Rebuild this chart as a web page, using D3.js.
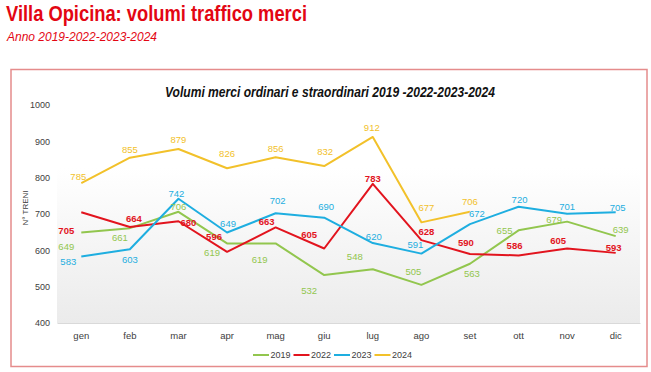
<!DOCTYPE html>
<html>
<head>
<meta charset="utf-8">
<script src="https://cdn.jsdelivr.net/npm/d3@7/dist/d3.min.js"></script>
<style>
  body { margin: 0; background: #fff; }
  svg { display: block; font-family: "Liberation Sans", Arial, sans-serif; }
</style>
</head>
<body>
<script>
// --- data ---
const months = ['gen', 'feb', 'mar', 'apr', 'mag', 'giu', 'lug', 'ago', 'set', 'ott', 'nov', 'dic'];
const years = ['2019', '2022', '2023', '2024'];
const v2019 = [649, 661, 706, 619, 619, 532, 548, 505, 563, 655, 679, 639];
const v2022 = [705, 664, 680, 596, 663, 605, 783, 628, 590, 586, 605, 593];
const v2023 = [583, 603, 742, 649, 702, 690, 620, 591, 672, 720, 701, 705];
const v2024 = [785, 855, 879, 826, 856, 832, 912, 677, 706, null, null, null];
const yTicks = [400, 500, 600, 700, 800, 900, 1000];

// --- styling ---
const narrow = '"Liberation Sans Narrow", "Liberation Sans", sans-serif';
const colors = { '2019': '#92c64e', '2022': '#e2141e', '2023': '#1eaee0', '2024': '#f2c12a' };
const weights = { '2019': 'normal', '2022': 'bold', '2023': 'normal', '2024': 'normal' };
// label nudges relative to each point (Excel put them by hand)
const labelOffsets = {
  '2019': [[-15, 14], [-10, 10], [0, -5], [-15, 9], [-16, 16], [-15, 16], [-18, -13], [-8, -13], [2, 10], [-14, 0], [-13, -2], [5, -6]],
  '2022': [[-15, 18], [4, -8], [10, 1], [-13, -15], [-9, -6], [-15, -14], [0, -5], [5, -8], [-4, -11], [-4, -10], [-9, -8], [-2, -5]],
  '2023': [[-13, 5], [0, 10], [-2, -5], [1, -9], [2, -13], [2, -11], [1, -6], [-6, -9], [7, -10], [1, -7], [0, -7], [2, -5]],
  '2024': [[-3, -6], [0, -8], [0, -9], [0, -15], [0, -9], [1, -14], [-1, -9], [5, -15], [0, -10]]
};

const series = [
  { key: '2019', values: v2019 },
  { key: '2022', values: v2022 },
  { key: '2023', values: v2023 },
  { key: '2024', values: v2024 }
];

const W = 651, H = 372;
const svg = d3.select('body').append('svg')
  .attr('width', W).attr('height', H)
  .attr('viewBox', `0 0 ${W} ${H}`)
  .attr('xmlns', 'http://www.w3.org/2000/svg');

// gradient for plot area
const defs = svg.append('defs');
const lg = defs.append('linearGradient')
  .attr('id', 'plotBg')
  .attr('x1', '0%').attr('y1', '0%')
  .attr('x2', '0%').attr('y2', '100%');
lg.append('stop').attr('offset', 0).attr('stop-color', '#ffffff');
lg.append('stop').attr('offset', '100%').attr('stop-color', '#ebebeb');

// page header
svg.append('text')
  .attr('x', 6).attr('y', 21)
  .attr('fill', '#e30613')
  .attr('font-size', 22).attr('font-weight', 'bold')
  .attr('textLength', 301).attr('lengthAdjust', 'spacingAndGlyphs')
  .text('Villa Opicina: volumi traffico merci');

svg.append('text')
  .attr('x', 7).attr('y', 40.5)
  .attr('fill', '#e30613')
  .attr('font-size', 13).attr('font-style', 'italic')
  .attr('textLength', 150).attr('lengthAdjust', 'spacingAndGlyphs')
  .text('Anno 2019-2022-2023-2024');

// chart frame
svg.append('rect')
  .attr('x', 11).attr('y', 69.5)
  .attr('width', 636).attr('height', 297)
  .attr('fill', '#fff')
  .attr('stroke', '#e58c8c')
  .attr('stroke-width', 1.5);

svg.append('text')
  .attr('x', 330).attr('y', 97)
  .attr('text-anchor', 'middle')
  .attr('fill', '#111')
  .attr('font-size', 14).attr('font-weight', 'bold').attr('font-style', 'italic')
  .attr('textLength', 330).attr('lengthAdjust', 'spacingAndGlyphs')
  .text('Volumi merci ordinari e straordinari 2019 -2022-2023-2024');

// scales
const plot = { left: 57, right: 640, top: 105, bottom: 323 };
const x = d3.scaleBand().domain(months).range([plot.left, plot.right]);
const cx = m => x(m) + x.bandwidth() / 2;
const y = d3.scaleLinear().domain([400, 1000]).range([plot.bottom, plot.top]);

svg.append('rect')
  .attr('x', plot.left).attr('y', 168)
  .attr('width', plot.right - plot.left).attr('height', plot.bottom - 168)
  .attr('fill', 'url(#plotBg)');

// y axis
const yAxis = svg.append('g')
  .attr('transform', `translate(${plot.left - 7},0)`)
  .call(d3.axisLeft(y).tickValues(yTicks).tickFormat(d3.format('d')).tickSize(0).tickPadding(0));
yAxis.select('.domain').remove();
yAxis.selectAll('text')
  .attr('fill', '#404040')
  .attr('font-size', 9)
  .style('font-family', narrow);

svg.append('text')
  .attr('transform', 'translate(28,208) rotate(-90)')
  .attr('text-anchor', 'middle')
  .attr('fill', '#404040')
  .attr('font-size', 8)
  .style('font-family', narrow)
  .text('N° TRENI');

// x axis
const xAxis = svg.append('g')
  .attr('transform', `translate(0,${plot.bottom})`)
  .call(d3.axisBottom(x).tickSize(0).tickPadding(9));
xAxis.select('.domain').attr('stroke', '#d9d9d9').attr('stroke-width', 1);
xAxis.selectAll('text')
  .attr('fill', '#404040')
  .attr('font-size', 9.5)
  .style('font-family', narrow);

// lines
const line = d3.line()
  .defined(d => d.v != null)
  .x(d => cx(d.m))
  .y(d => y(d.v));

series.forEach(s => {
  const pts = s.values.map((v, i) => ({ m: months[i], v, i }));
  svg.append('path')
    .datum(pts)
    .attr('fill', 'none')
    .attr('stroke', colors[s.key])
    .attr('stroke-width', 2)
    .attr('stroke-linejoin', 'round')
    .attr('d', line);
});

// data labels
series.forEach(s => {
  const pts = s.values.map((v, i) => ({ m: months[i], v, i })).filter(d => d.v != null);
  svg.append('g').selectAll('text')
    .data(pts)
    .join('text')
      .attr('x', d => cx(d.m) + labelOffsets[s.key][d.i][0])
      .attr('y', d => y(d.v) + labelOffsets[s.key][d.i][1])
      .attr('dy', '0.35em')
      .attr('text-anchor', 'middle')
      .attr('fill', colors[s.key])
      .attr('font-size', 9.5)
      .attr('font-weight', weights[s.key])
      .style('font-family', narrow)
      .text(d => d.v);
});

// legend
const legend = svg.append('g').attr('transform', 'translate(253,355)');
const item = legend.selectAll('g')
  .data(years)
  .join('g')
    .attr('transform', (d, i) => `translate(${i * 40.5},0)`);
item.append('line')
  .attr('x1', 0).attr('x2', 16)
  .attr('stroke', d => colors[d])
  .attr('stroke-width', 2);
item.append('text')
  .attr('x', 17.5).attr('dy', '0.35em')
  .attr('fill', '#404040')
  .attr('font-size', 9)
  .style('font-family', narrow)
  .text(d => d);
</script>
</body>
</html>
